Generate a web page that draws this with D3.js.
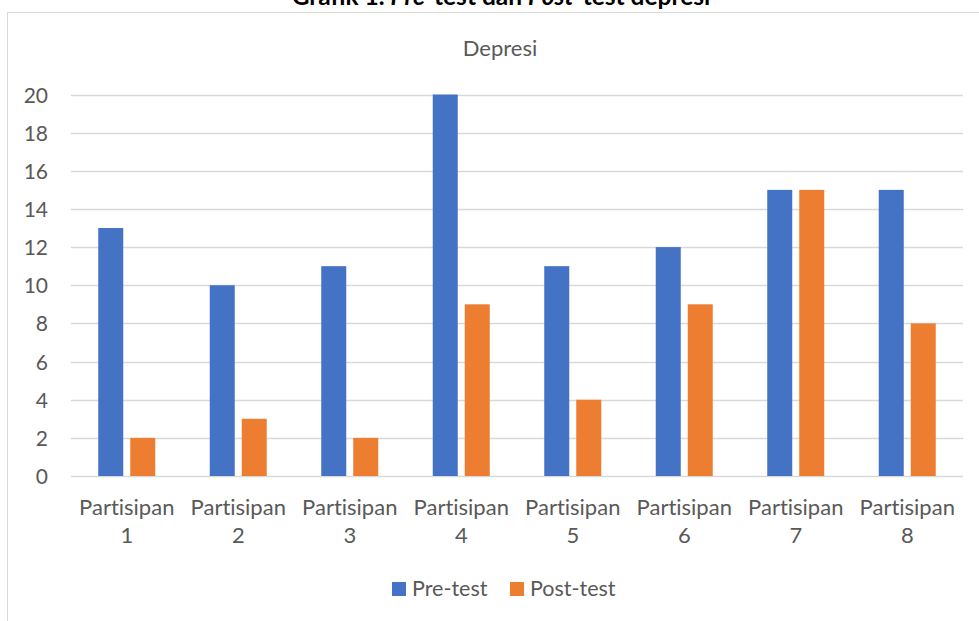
<!DOCTYPE html>
<html>
<head>
<meta charset="utf-8">
<script src="https://cdn.jsdelivr.net/npm/d3@7"></script>
<style>
  html, body { margin: 0; padding: 0; background: #fff; }
  svg { display: block; font-family: Lato, "Open Sans", sans-serif; font-variant-ligatures: none; }
</style>
</head>
<body>
<svg id="chart" width="979" height="621"></svg>
<script>
const categories = ["Partisipan 1", "Partisipan 2", "Partisipan 3", "Partisipan 4",
                    "Partisipan 5", "Partisipan 6", "Partisipan 7", "Partisipan 8"];
const seriesNames = ["Pre-test", "Post-test"];
const preTest  = [13, 10, 11, 20, 11, 12, 15, 15];
const postTest = [2, 3, 2, 9, 4, 9, 15, 8];
const yTicks = [0, 2, 4, 6, 8, 10, 12, 14, 16, 18, 20];
const colors = ["#4472C4", "#ED7D31"];
const chartTitle = "Depresi";

const svg = d3.select("#chart");
const plot = { left: 71, right: 963, top: 94.5, bottom: 476 };

// outer chart border
svg.append("rect")
  .attr("x", 7.5).attr("y", 12.5)
  .attr("width", 985).attr("height", 620)
  .attr("fill", "#fff").attr("stroke", "#d9d9d9").attr("stroke-width", 1);

// document title (partially cut at the top, as in the reference)
const t = svg.append("text")
  .attr("x", 501).attr("y", 5)
  .attr("text-anchor", "middle")
  .attr("font-size", 24.5).attr("font-weight", "bold").attr("fill", "#000");
t.append("tspan").text("Grafik 1. ");
t.append("tspan").attr("font-style", "italic").text("Pre");
t.append("tspan").text("-test dan ");
t.append("tspan").attr("font-style", "italic").text("Post");
t.append("tspan").text("-test depresi");

// chart title
svg.append("text")
  .attr("x", 500).attr("y", 56)
  .attr("text-anchor", "middle")
  .attr("font-size", 22).attr("fill", "#595959")
  .text(chartTitle);

const x0 = d3.scaleBand().domain(categories).range([plot.left, plot.right]).paddingInner(0).paddingOuter(0);
const y = d3.scaleLinear().domain([0, 20]).range([plot.bottom, plot.top]);

// gridlines
svg.append("g").selectAll("line").data(yTicks).join("line")
  .attr("x1", plot.left).attr("x2", plot.right)
  .attr("y1", d => Math.round(y(d)) + 0.5).attr("y2", d => Math.round(y(d)) + 0.5)
  .attr("stroke", "#d9d9d9").attr("stroke-width", 1.3);

// y axis labels
const yAxis = d3.axisLeft(y).tickValues(yTicks).tickSize(0).tickPadding(0).tickFormat(d3.format("d"));
const gy = svg.append("g").attr("transform", "translate(48,0)").call(yAxis);
gy.select(".domain").remove();
gy.selectAll("text").attr("font-size", 21).attr("fill", "#595959").attr("font-family", "Lato, sans-serif").attr("dy", "0.36em");

// bars
const barW = 25, gap = 7;
const data = categories.map((c, i) => ({ c, vals: [preTest[i], postTest[i]] }));
const groups = svg.append("g").selectAll("g").data(data).join("g")
  .attr("transform", d => `translate(${x0(d.c) + x0.bandwidth() / 2},0)`);
groups.selectAll("rect").data(d => d.vals.map((v, k) => ({ v, k }))).join("rect")
  .attr("x", d => d.k === 0 ? -(gap / 2 + barW) : gap / 2)
  .attr("width", barW)
  .attr("y", d => y(d.v))
  .attr("height", d => y(0) - y(d.v))
  .attr("fill", d => colors[d.k]);

// x axis category labels (two lines)
const xAxis = d3.axisBottom(x0).tickSize(0).tickPadding(0);
const gx = svg.append("g").attr("transform", `translate(0,${plot.bottom})`).call(xAxis);
gx.select(".domain").remove();
gx.selectAll("text").each(function (d) {
  const parts = d.split(" ");
  const el = d3.select(this).text(null).attr("y", 0).attr("dy", null)
    .attr("font-size", 22).attr("fill", "#595959").attr("font-family", "Lato, sans-serif");
  el.append("tspan").attr("x", 0).attr("y", 39).text(parts[0]);
  el.append("tspan").attr("x", 0).attr("y", 67).text(parts[1]);
});

// legend
const legend = svg.append("g");
const legendX = [392, 510];
seriesNames.forEach((name, i) => {
  legend.append("rect").attr("x", legendX[i]).attr("y", 582).attr("width", 14).attr("height", 14).attr("fill", colors[i]);
  legend.append("text").attr("x", legendX[i] + 20).attr("y", 596)
    .attr("font-size", 21.5).attr("fill", "#595959").text(name);
});
</script>
</body>
</html>
